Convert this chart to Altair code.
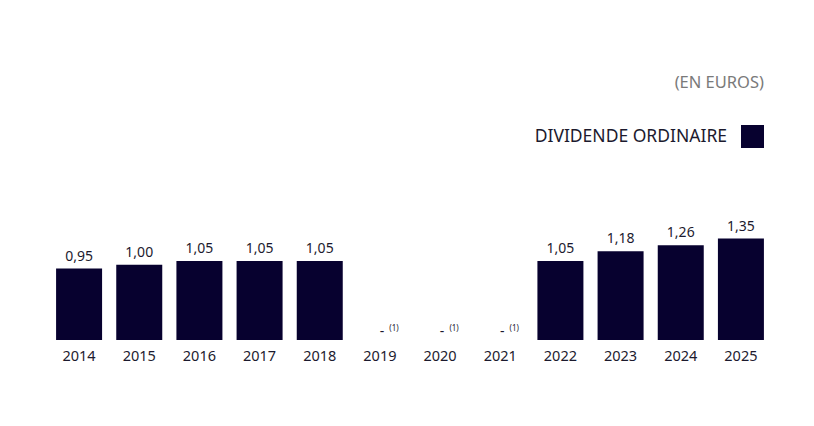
import altair as alt
import pandas as pd

years = ["2014", "2015", "2016", "2017", "2018", "2019", "2020", "2021",
         "2022", "2023", "2024", "2025"]
dividends = [0.95, 1.00, 1.05, 1.05, 1.05, None, None, None,
             1.05, 1.18, 1.26, 1.35]
series_name = "DIVIDENDE ORDINAIRE"
unit_title = "(EN EUROS)"
note_mark = "(1)"

FONT = "Noto Sans"
BAR = "#07012f"
TXT = "#1c1a2e"

df = pd.DataFrame({"year": years, "value": dividends})
df["series"] = series_name
df["label"] = [("" if v is None or pd.isna(v) else f"{v:.2f}".replace(".", ",")) for v in df["value"]]
df["dash"] = ["-" if (v is None or pd.isna(v)) else "" for v in df["value"]]
df["note"] = [note_mark if (v is None or pd.isna(v)) else "" for v in df["value"]]
df["ylab"] = df["value"].fillna(0.0)

x = alt.X("year:N", sort=years, title=None,
          scale=alt.Scale(paddingInner=0.236, paddingOuter=0.118),
          axis=alt.Axis(labelAngle=0, ticks=False, domain=False, labelPadding=9,
                        labelFontSize=14.5, labelColor=TXT, labelFont=FONT))
yscale = alt.Scale(domain=[0, 3.18], nice=False, zero=True)

base = alt.Chart(df)

bars = base.mark_bar(size=46).encode(
    x=x,
    y=alt.Y("value:Q", scale=yscale, axis=None, title=None),
    color=alt.Color("series:N",
                    scale=alt.Scale(domain=[series_name], range=[BAR]),
                    legend=alt.Legend(title=None, orient="none", legendX=692, legendY=24,
                                      symbolType="square", symbolSize=529,
                                      symbolStrokeWidth=0, symbolOpacity=1,
                                      labelAlign="right", labelOffset={"expr": "-37"},
                                      labelFontSize=17.5, labelColor=TXT, labelFont=FONT,
                                      labelLimit=400, padding=0)),
)

labels = base.mark_text(baseline="bottom", dy=-5, fontSize=14, color=TXT, font=FONT).encode(
    x=x,
    y=alt.Y("ylab:Q", scale=yscale),
    text="label:N",
)

dashes = base.mark_text(baseline="bottom", dx=2, dy=-1, fontSize=14, color=TXT, font=FONT).encode(
    x=x,
    y=alt.Y("ylab:Q", scale=yscale),
    text="dash:N",
)

notes = base.mark_text(baseline="bottom", dx=14, dy=-7, fontSize=8, color=TXT, font=FONT).encode(
    x=x,
    y=alt.Y("ylab:Q", scale=yscale),
    text="note:N",
)

chart = alt.layer(bars, labels, dashes, notes).properties(
    width=722, height=239,
    padding={"left": 41, "top": 66, "right": 5, "bottom": 5},
    title=alt.TitleParams(unit_title, anchor="end", fontSize=16.5, font=FONT,
                          color="#7a7a7a", fontWeight="normal", offset=10, dx=-7),
).configure(background="white").configure_view(stroke=None)

chart.save("out.html", embed_options={"renderer": "svg", "actions": False})
